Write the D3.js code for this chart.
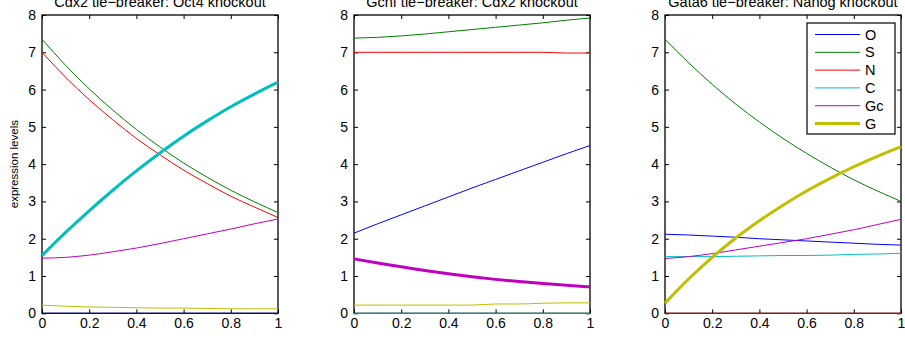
<!doctype html>
<html lang='en'>
<head>
<meta charset="utf-8">
<script src="https://d3js.org/d3.v7.min.js"></script>
<title>Tie-breaker knockouts</title>
<style>
  body { margin: 0; background: #fff; }
  svg { display: block; font-family: "Liberation Sans", Arial, sans-serif; }
  .frame { fill: none; stroke: #000; stroke-width: 1.3; }
  .tick text { font-size: 14px; fill: #000; }
  .title { font-size: 14.5px; }
</style>
</head>
<body>
<div id='chart'></div>
<script>
// time points (x axis)
const xs = [0, 0.1, 0.2, 0.3, 0.4, 0.5, 0.6, 0.7, 0.8, 0.9, 1];
const xTicks = [0, 0.2, 0.4, 0.6, 0.8, 1];
const yTicks = [0, 1, 2, 3, 4, 5, 6, 7, 8];
const seriesNames = ['O', 'S', 'N', 'C', 'Gc', 'G'];
const seriesColors = ['#0000ff', '#008000', '#ff0000', '#00bfbf', '#bf00bf', '#bfbf00'];
const titles = ['Cdx2 tie\u2212breaker: Oct4 knockout', 'Gcnf tie\u2212breaker: Cdx2 knockout', 'Gata6 tie\u2212breaker: Nanog knockout'];

// panel 1: Oct4 knockout
const cdx2O  = [0, 0, 0, 0, 0, 0, 0, 0, 0, 0, 0];
const cdx2S  = [7.35, 6.65, 6.02, 5.45, 4.93, 4.46, 4.03, 3.65, 3.30, 2.99, 2.70];
const cdx2N  = [7.00, 6.33, 5.73, 5.19, 4.69, 4.25, 3.84, 3.48, 3.14, 2.85, 2.57];
const cdx2C  = [1.55, 2.17, 2.75, 3.30, 3.82, 4.30, 4.75, 5.16, 5.54, 5.88, 6.20];
const cdx2Gc = [1.48, 1.50, 1.56, 1.65, 1.75, 1.87, 2.00, 2.13, 2.26, 2.40, 2.53];
const cdx2G  = [0.22, 0.19, 0.17, 0.16, 0.15, 0.14, 0.14, 0.13, 0.12, 0.12, 0.12];

// panel 2: Cdx2 knockout
const gcnfO  = [2.15, 2.40, 2.64, 2.88, 3.12, 3.36, 3.59, 3.82, 4.05, 4.28, 4.50];
const gcnfS  = [7.38, 7.40, 7.44, 7.49, 7.55, 7.61, 7.67, 7.73, 7.79, 7.86, 7.92];
const gcnfN  = [7.00, 7.00, 7.00, 7.00, 7.00, 7.00, 7.00, 7.00, 7.00, 6.98, 6.98];
const gcnfC  = [0, 0, 0, 0, 0, 0, 0, 0, 0, 0, 0];
const gcnfGc = [1.46, 1.35, 1.25, 1.15, 1.06, 0.98, 0.91, 0.85, 0.80, 0.75, 0.71];
const gcnfG  = [0.22, 0.22, 0.22, 0.22, 0.22, 0.22, 0.25, 0.25, 0.27, 0.28, 0.28];

// panel 3: Nanog knockout
const gata6O  = [2.12, 2.10, 2.07, 2.04, 2.00, 1.97, 1.94, 1.91, 1.88, 1.85, 1.83];
const gata6S  = [7.35, 6.72, 6.14, 5.61, 5.13, 4.69, 4.29, 3.92, 3.58, 3.28, 3.00];
const gata6N  = [0, 0, 0, 0, 0, 0, 0, 0, 0, 0, 0];
const gata6C  = [1.52, 1.52, 1.52, 1.53, 1.54, 1.55, 1.55, 1.56, 1.58, 1.59, 1.61];
const gata6Gc = [1.47, 1.52, 1.60, 1.70, 1.80, 1.90, 2.00, 2.12, 2.24, 2.38, 2.52];
const gata6G  = [0.27, 0.92, 1.50, 2.02, 2.48, 2.90, 3.28, 3.62, 3.93, 4.21, 4.47];

const panelSeries = [
  [cdx2O, cdx2S, cdx2N, cdx2C, cdx2Gc, cdx2G],
  [gcnfO, gcnfS, gcnfN, gcnfC, gcnfGc, gcnfG],
  [gata6O, gata6S, gata6N, gata6C, gata6Gc, gata6G]
];
// which series is drawn thick in each panel
const thickSeries = ['C', 'Gc', 'G'];

const W = 905, H = 341;
const panelLeft = [42, 354, 665];
const panelW = 236;
const plotTop = 15, plotBottom = 313.3;

const svg = d3.select('#chart').append('svg')
  .attr('width', W).attr('height', H);

const y = d3.scaleLinear().domain([0, 8]).range([plotBottom, plotTop]);

panelSeries.forEach((series, p) => {
  const x = d3.scaleLinear().domain([0, 1]).range([panelLeft[p], panelLeft[p] + panelW]);
  const g = svg.append('g');

  // inward ticks on all four sides, like matlab
  g.append('g').attr('transform', 'translate(0,' + plotBottom + ')')
    .call(d3.axisBottom(x).tickValues(xTicks).tickFormat(d3.format('~g')).tickSizeInner(-4).tickSizeOuter(0).tickPadding(5))
    .call(a => a.select('.domain').remove());
  g.append('g').attr('transform', 'translate(0,' + plotTop + ')')
    .call(d3.axisTop(x).tickValues(xTicks).tickFormat('').tickSizeInner(-4).tickSizeOuter(0))
    .call(a => a.select('.domain').remove());
  g.append('g').attr('transform', 'translate(' + panelLeft[p] + ',0)')
    .call(d3.axisLeft(y).tickValues(yTicks).tickSizeInner(-4).tickSizeOuter(0).tickPadding(6))
    .call(a => a.select('.domain').remove());
  g.append('g').attr('transform', 'translate(' + (panelLeft[p] + panelW) + ',0)')
    .call(d3.axisRight(y).tickValues(yTicks).tickFormat('').tickSizeInner(-4).tickSizeOuter(0))
    .call(a => a.select('.domain').remove());
  g.selectAll('.tick line').attr('stroke', '#000');

  g.append('rect').attr('class', 'frame')
    .attr('x', panelLeft[p]).attr('y', plotTop)
    .attr('width', panelW).attr('height', plotBottom - plotTop);

  g.append('text').attr('class', 'title')
    .attr('x', panelLeft[p] + panelW / 2).attr('y', 7)
    .attr('text-anchor', 'middle')
    .text(titles[p]);

  const line = d3.line()
    .x((d, i) => x(xs[i]))
    .y(d => y(d))
    .curve(d3.curveMonotoneX);

  series.forEach((vals, s) => {
    g.append('path')
      .datum(vals)
      .attr('fill', 'none')
      .attr('stroke', seriesColors[s])
      .attr('stroke-width', seriesNames[s] === thickSeries[p] ? 3 : 1)
      .attr('d', line);
  });
});

svg.append('text')
  .attr('transform', 'translate(18,' + ((plotTop + plotBottom) / 2) + ') rotate(-90)')
  .attr('text-anchor', 'middle')
  .attr('font-size', 11.5)
  .text('expression levels');

// legend in the third panel
const legend = svg.append('g');
legend.append('rect')
  .attr('x', 807).attr('y', 23).attr('width', 88).attr('height', 111)
  .attr('fill', '#fff').attr('stroke', '#000').attr('stroke-width', 1.2);

const legendY = d3.scalePoint().domain(seriesNames).range([34.5, 123.5]);
seriesNames.forEach((name, s) => {
  legend.append('line')
    .attr('x1', 815).attr('x2', 860)
    .attr('y1', legendY(name)).attr('y2', legendY(name))
    .attr('stroke', seriesColors[s])
    .attr('stroke-width', name === 'G' ? 3 : 1);
  legend.append('text')
    .attr('x', 865).attr('y', legendY(name) + 5)
    .attr('font-size', 14.5)
    .text(name);
});
</script>
</body>
</html>
